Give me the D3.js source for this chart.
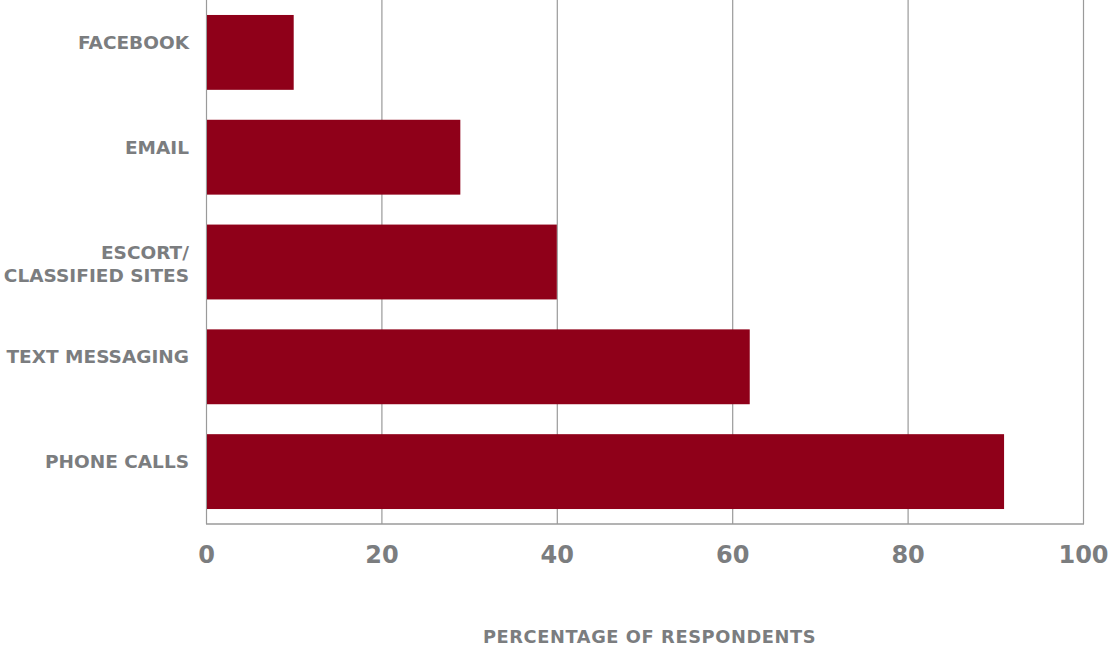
<!DOCTYPE html>
<html>
<head>
<meta charset="utf-8">
<script src="https://cdn.jsdelivr.net/npm/d3@7"></script>
<style>
  html, body { margin: 0; padding: 0; background: #fff; }
  svg { display: block; }
  text { font-family: "DejaVu Sans", sans-serif; font-weight: bold; fill: #7b7d7f; }
</style>
</head>
<body>
<svg id="chart" width="1109" height="646"></svg>
<script>
const categories = [["FACEBOOK"], ["EMAIL"], ["ESCORT/", "CLASSIFIED SITES"], ["TEXT MESSAGING"], ["PHONE CALLS"]];
const values = [10, 29, 40, 62, 91];
const xTicks = [0, 20, 40, 60, 80, 100];
const xTitle = "PERCENTAGE OF RESPONDENTS";

(function () {
const svg = d3.select("#chart");
const mLeft = 206, mRight = 1083, mTop = 0, mBottom = 524;

const x = d3.scaleLinear().domain([0, 100]).range([mLeft, mRight]);
const y = d3.scaleBand().domain(d3.range(categories.length)).range([mTop, mBottom])
  .paddingInner(2 / 7).paddingOuter(1 / 7);

// gridlines
svg.append("g").selectAll("line").data(xTicks).join("line")
  .attr("x1", d => x(d) + 0.5).attr("x2", d => x(d) + 0.5)
  .attr("y1", mTop).attr("y2", mBottom)
  .attr("stroke", "#9a9a9a").attr("stroke-width", 1.2);

// baseline axis
svg.append("line")
  .attr("x1", x(0)).attr("x2", x(100) + 1)
  .attr("y1", mBottom).attr("y2", mBottom)
  .attr("stroke", "#9a9a9a").attr("stroke-width", 1.5);

// bars
svg.append("g").selectAll("rect").data(values).join("rect")
  .attr("x", x(0) + 1)
  .attr("y", (d, i) => y(i))
  .attr("width", d => x(d) - x(0) - 1)
  .attr("height", y.bandwidth())
  .attr("fill", "#8f0019");

// x axis tick labels via d3 axis
const xAxis = d3.axisBottom(x).tickValues(xTicks).tickSize(0).tickPadding(0).tickFormat(d3.format("d"));
const gx = svg.append("g").attr("transform", `translate(0, ${mBottom + 39})`).call(xAxis);
gx.select(".domain").remove();
gx.selectAll("text")
  .attr("dy", 0)
  .style("font-size", "24px")
  .attr("fill", "#7b7d7f");

// category labels
const labels = svg.append("g").selectAll("text").data(categories).join("text")
  .attr("text-anchor", "end")
  .attr("x", mLeft - 17)
  .attr("y", (d, i) => y(i) + y.bandwidth() / 2)
  .style("font-size", "18.5px");
labels.each(function (lines) {
  const t = d3.select(this);
  const n = lines.length;
  lines.forEach((ln, k) => {
    t.append("tspan")
      .attr("x", mLeft - 17)
      .attr("dy", k === 0 ? (n === 1 ? "-3.5px" : "-3.5px") : "23px")
      .text(ln);
  });
});

// axis title
svg.append("text")
  .attr("x", (x(0) + x(100)) / 2 + 5)
  .attr("y", 643)
  .attr("text-anchor", "middle")
  .style("font-size", "17.8px")
  .style("letter-spacing", "0.6px")
  .text(xTitle);
})();
</script>
</body>
</html>
